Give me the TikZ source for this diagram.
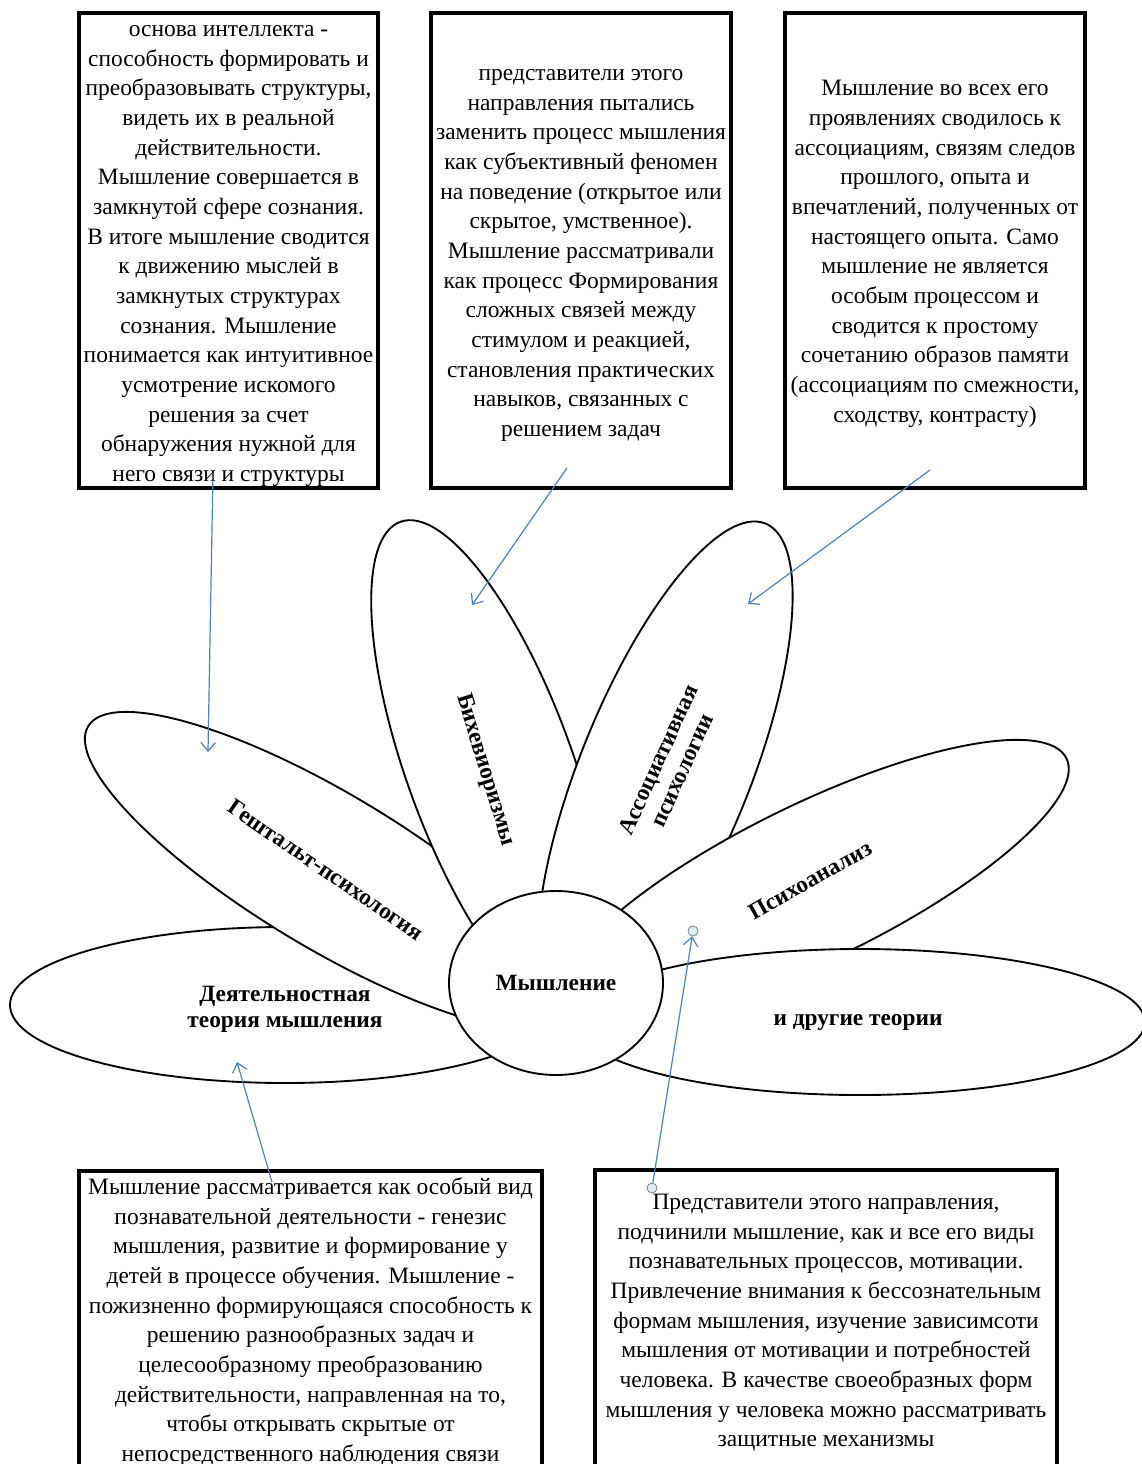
\documentclass[tikz,border=0pt]{standalone}
\usepackage{fontspec}
\setmainfont{Liberation Serif}
\usetikzlibrary{arrows.meta,fit,shapes.geometric}
\definecolor{arrowblue}{RGB}{79,129,189}
\definecolor{gluefill}{RGB}{220,238,246}
\begin{document}
\begin{tikzpicture}[x=0.75pt,y=-0.75pt,
  petal/.style={draw=black,fill=white,line width=1.4pt},
  boxframe/.style={draw=black,line width=2.3pt,inner sep=0pt},
  boxtext/.style={align=center,inner sep=0pt,font=\fontsize{17.6}{22.25}\selectfont},
  lbl/.style={align=center,inner sep=0pt,font=\bfseries\fontsize{17.5}{19.5}\selectfont},
  conn/.style={draw=arrowblue,line width=0.9pt,-{Straight Barb[length=6.5pt,width=11pt]}},
  glue/.style={circle,draw=gray,fill=gluefill,minimum size=7.5pt,inner sep=0pt,line width=0.6pt}]
\useasboundingbox (0,0) rectangle (1142,1464);
\clip (0,0) rectangle (1142,1464);
\fill[white] (0,0) rectangle (1142,1464);

% ---- petals ----
\draw[petal] (285,1005) ellipse [x radius=275,y radius=78];
\draw[petal,rotate around={-31:(329,871)}] (329,871) ellipse [x radius=281,y radius=77];
\draw[petal,rotate around={-70:(490,768)}] (490,768) ellipse [x radius=262,y radius=83];
\draw[petal,rotate around={68:(665,772)}] (665,772) ellipse [x radius=268,y radius=85];
\draw[petal,rotate around={26:(813,882)}] (813,882) ellipse [x radius=282,y radius=78];
\draw[petal] (860,1022) ellipse [x radius=285,y radius=73];

% ---- centre ----
\node[ellipse,draw=black,fill=white,line width=1.4pt,minimum width=160.5pt,minimum height=138pt,inner sep=0pt,
      font=\bfseries\fontsize{17.5}{19.5}\selectfont] (think) at (556,983) {Мышление};

% ---- petal labels ----
\node[lbl] (lD) at (285,1009) {Деятельностная\\теория мышления};
\node[lbl,rotate=-34.4] (lG) at (326,870) {Гештальт-психология};
\node[lbl,rotate=-73] (lB) at (485,770) {Бихевиоризмы};
\node[lbl,rotate=65.5] (lA) at (670,765) {Ассоциативная\\психологии};
\node[lbl,rotate=29.4] (lP) at (810,880) {Психоанализ};
\node[lbl] (lO) at (858,1023) {и другие теории};

% ---- boxes ----
\node[boxframe,fit={(79,13) (378,488)}] (b1) {};
\node[boxframe,fit={(431,13) (731,488)}] (b2) {};
\node[boxframe,fit={(785,13) (1085,488)}] (b3) {};
\node[boxframe,fit={(79,1171) (542,1540)}] (b4) {};
\node[boxframe,fit={(595,1170) (1057,1540)}] (b5) {};

\node[boxtext] (t1) at (228.5,256) {основа интеллекта -\\способность формировать и\\преобразовывать структуры,\\видеть их в реальной\\действительности.\\Мышление совершается в\\замкнутой сфере сознания.\\В итоге мышление сводится\\к движению мыслей в\\замкнутых структурах\\сознания. Мышление\\понимается как интуитивное\\усмотрение искомого\\решения за счет\\обнаружения нужной для\\него связи и структуры};

\node[boxtext] (t2) at (581,255.5) {представители этого\\направления пытались\\заменить процесс мышления\\как субъективный феномен\\на поведение (открытое или\\скрытое, умственное).\\Мышление рассматривали\\как процесс Формирования\\сложных связей между\\стимулом и реакцией,\\становления практических\\навыков, связанных с\\решением задач};

\node[boxtext] (t3) at (935,254) {Мышление во всех его\\проявлениях сводилось к\\ассоциациям, связям следов\\прошлого, опыта и\\впечатлений, полученных от\\настоящего опыта. Само\\мышление не является\\особым процессом и\\сводится к простому\\сочетанию образов памяти\\(ассоциациям по смежности,\\сходству, контрасту)};

\node[boxtext] (t4) at (310.5,1322) {Мышление рассматривается как особый вид\\познавательной деятельности - генезис\\мышления, развитие и формирование у\\детей в процессе обучения. Мышление -\\пожизненно формирующаяся способность к\\решению разнообразных задач и\\целесообразному преобразованию\\действительности, направленная на то,\\чтобы открывать скрытые от\\непосредственного наблюдения связи};

\node[boxtext] (t5) at (826,1323) {Представители этого направления,\\подчинили мышление, как и все его виды\\познавательных процессов, мотивации.\\Привлечение внимания к бессознательным\\формам мышления, изучение зависимсоти\\мышления от мотивации и потребностей\\человека. В качестве своеобразных форм\\мышления у человека можно рассматривать\\защитные механизмы};

% ---- connectors ----
\coordinate (s1) at (213,473);  \coordinate (e1) at (208,752);
\coordinate (s2) at (567,468);  \coordinate (e2) at (472,605);
\coordinate (s3) at (930,470);  \coordinate (e3) at (748,604);
\coordinate (s4) at (272,1182); \coordinate (e4) at (237,1062);
\draw[conn] (s1) -- (e1);
\draw[conn] (s2) -- (e2);
\draw[conn] (s3) -- (e3);
\draw[conn] (s4) -- (e4);
\node[glue] (g1) at (652,1188) {};
\node[glue] (g2) at (693,931) {};
\draw[conn] (g1) -- (g2);
\end{tikzpicture}
\end{document}
